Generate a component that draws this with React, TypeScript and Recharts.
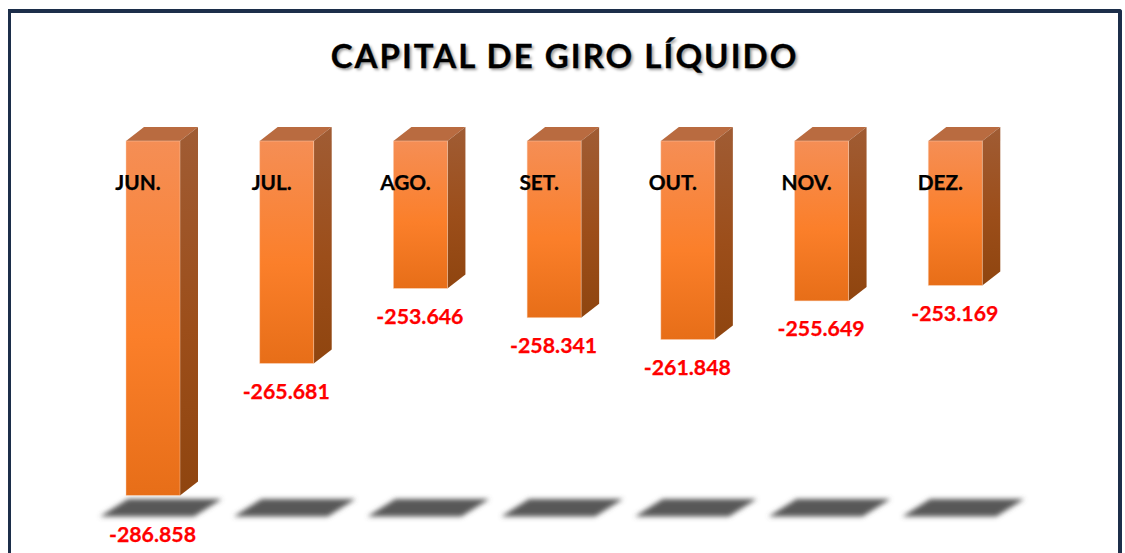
import React from "react";
import { BarChart, Bar, XAxis, YAxis, LabelList } from "recharts";

const months = ["JUN.", "JUL.", "AGO.", "SET.", "OUT.", "NOV.", "DEZ."];
const capital = [-286858, -265681, -253646, -258341, -261848, -255649, -253169];
const chartTitle = "CAPITAL DE GIRO LÍQUIDO";

const data = months.map((month, i) => ({ month, capital: capital[i] }));

const fmt = (v: number) => {
  const a = Math.abs(v);
  const s = Math.floor(a / 1000) + "." + String(a % 1000).padStart(3, "0");
  return (v < 0 ? "-" : "") + s;
};

const DX = 18;
const DY = 14;

const Bar3D = (props: any) => {
  const { x, y, width, height, background } = props;
  const top = Math.min(y, y + height);
  const bot = Math.max(y, y + height);
  const floor = background ? background.y + background.height : 515;
  const r = x + width;
  const sy0 = floor - 16;
  const sy1 = floor + 1.5;
  return (
    <g>
      <path
        d={`M${x + 2} ${sy0} L${r + 42} ${sy0} L${r + 14} ${sy1} L${x - 26} ${sy1} Z`}
        fill="#585858"
        filter="url(#floorBlur)"
      />
      <path d={`M${x} ${top} L${x + DX} ${top - DY} L${r + DX} ${top - DY} L${r} ${top} Z`} fill="#B96B40" />
      <path d={`M${r} ${top} L${r + DX} ${top - DY} L${r + DX} ${bot - DY} L${r} ${bot} Z`} fill="url(#sideGrad)" />
      <rect x={x} y={top} width={width} height={bot - top} fill="url(#frontGrad)" stroke="#FAD2B6" strokeOpacity={0.55} strokeWidth={0.8} />
    </g>
  );
};

const MonthLabel = (props: any) => {
  const { x, y, width, height, value } = props;
  const top = Math.min(y, y + height);
  return (
    <text
      x={x + width / 2 - 15}
      y={top + 49}
      textAnchor="middle"
      fontFamily="Lato"
      fontWeight={700}
      fontSize={20.8}
      fill="#000"
      stroke="#000"
      strokeWidth={0.25}
    >
      {value}
    </text>
  );
};

const ValueLabel = (props: any) => {
  const { x, y, width, height, value, index } = props;
  const bot = Math.max(y, y + height);
  const extra = index === 0 ? 11 : 0;
  return (
    <text
      x={x + width / 2 - 0.5}
      y={bot + 35.5 + extra}
      textAnchor="middle"
      fontFamily="Lato"
      fontWeight={700}
      fontSize={21.3}
      fill="#FF0000"
      stroke="#FF0000"
      strokeWidth={0.25}
    >
      {fmt(value)}
    </text>
  );
};

export default function App() {
  return (
    <div style={{ position: "absolute", left: 0, top: 0, width: 1125, height: 553, overflow: "hidden", background: "#fff" }}>
      <div
        style={{
          position: "absolute",
          left: 8,
          top: 9,
          width: 1107,
          height: 560,
          borderStyle: "solid",
          borderColor: "#1C2E4A",
          borderWidth: "4px 4px 0 3px",
          borderTopRightRadius: 3,
        }}
      />
      <div
        style={{
          position: "absolute",
          left: 0,
          top: 33,
          width: 1125,
          paddingLeft: 2,
          textAlign: "center",
          fontFamily: "Lato",
          fontWeight: 700,
          fontSize: 33,
          lineHeight: "44px",
          letterSpacing: 2.05,
          color: "#000",
          WebkitTextStroke: "0.3px #000",
          textShadow: "2px 2px 3px rgba(0,0,0,0.4)",
        }}
      >
        {chartTitle}
      </div>
      <div style={{ position: "absolute", left: 0, top: 0 }}>
        <BarChart
          width={1125}
          height={553}
          data={data}
          margin={{ top: 141, right: 103, bottom: 38, left: 86 }}
        >
          <defs>
            <linearGradient id="frontGrad" x1="0" y1="0" x2="0" y2="1">
              <stop offset="0" stopColor="#F58E55" />
              <stop offset="0.55" stopColor="#FB7F2A" />
              <stop offset="1" stopColor="#E76E18" />
            </linearGradient>
            <linearGradient id="sideGrad" x1="0" y1="0" x2="0" y2="1">
              <stop offset="0" stopColor="#A05C34" />
              <stop offset="0.55" stopColor="#9C4E1A" />
              <stop offset="1" stopColor="#8F450F" />
            </linearGradient>
            <filter id="floorBlur" x="-20%" y="-60%" width="140%" height="220%">
              <feGaussianBlur stdDeviation="2.6" />
            </filter>
          </defs>
          <XAxis dataKey="month" hide />
          <YAxis hide domain={[-290000, -230000]} />
          <Bar dataKey="capital" barSize={54} shape={<Bar3D />} isAnimationActive={false}>
            <LabelList dataKey="month" content={<MonthLabel />} />
            <LabelList dataKey="capital" content={<ValueLabel />} />
          </Bar>
        </BarChart>
      </div>
    </div>
  );
}
